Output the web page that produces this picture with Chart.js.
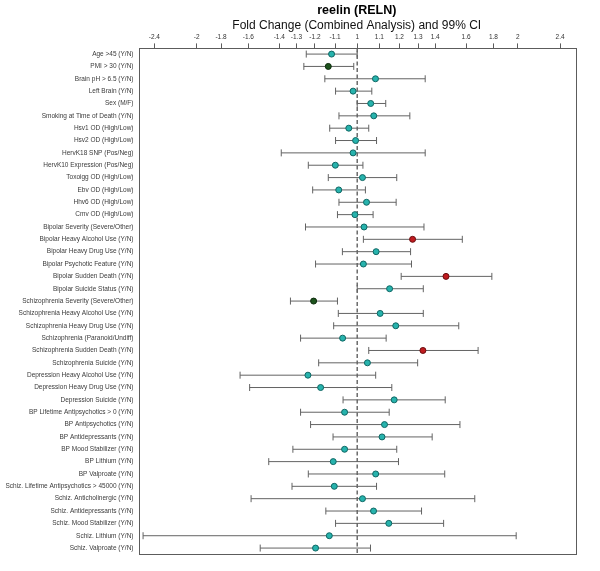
<!DOCTYPE html>
<html>
<head>
<meta charset="utf-8">
<script src="https://cdn.jsdelivr.net/npm/chart.js@4.4.1/dist/chart.umd.min.js"></script>
<style>
    body { margin: 0; background: #fff; }
    .chart-wrap { width: 600px; height: 571px; }
</style>
</head>
<body>
<div class="chart-wrap"><canvas id="forestChart"></canvas></div>
<script>
// row labels, top to bottom
const categories = [
    'Age >45 (Y/N)', 'PMI > 30 (Y/N)', 'Brain pH > 6.5 (Y/N)', 'Left Brain (Y/N)', 'Sex (M/F)',
    'Smoking at Time of Death (Y/N)', 'Hsv1 OD (High/Low)', 'Hsv2 OD (High/Low)', 'HervK18 SNP (Pos/Neg)',
    'HervK10 Expression (Pos/Neg)', 'Toxoigg OD (High/Low)', 'Ebv OD (High/Low)', 'Hhv6 OD (High/Low)',
    'Cmv OD (High/Low)', 'Bipolar Severity (Severe/Other)', 'Bipolar Heavy Alcohol Use (Y/N)',
    'Bipolar Heavy Drug Use (Y/N)', 'Bipolar Psychotic Feature (Y/N)', 'Bipolar Sudden Death (Y/N)',
    'Bipolar Suicide Status (Y/N)', 'Schizophrenia Severity (Severe/Other)',
    'Schizophrenia Heavy Alcohol Use (Y/N)', 'Schizophrenia Heavy Drug Use (Y/N)',
    'Schizophrenia (Paranoid/Undiff)', 'Schizophrenia Sudden Death (Y/N)', 'Schizophrenia Suicide (Y/N)',
    'Depression Heavy Alcohol Use (Y/N)', 'Depression Heavy Drug Use (Y/N)', 'Depression Suicide (Y/N)',
    'BP Lifetime Antipsychotics > 0 (Y/N)', 'BP Antipsychotics (Y/N)', 'BP Antidepressants (Y/N)',
    'BP Mood Stabilizer (Y/N)', 'BP Lithium (Y/N)', 'BP Valproate (Y/N)',
    'Schiz. Lifetime Antipsychotics > 45000 (Y/N)', 'Schiz. Anticholinergic (Y/N)',
    'Schiz. Antidepressants (Y/N)', 'Schiz. Mood Stabilizer (Y/N)', 'Schiz. Lithium (Y/N)',
    'Schiz. Valproate (Y/N)'
]
// signed fold change (negative = down), estimate and 99% CI
const foldChange = [
    -1.117, -1.133, 1.082, -1.018, 1.060, 1.074, -1.037, -1.007, -1.018, -1.099,
    1.023, -1.083, 1.041, -1.010, 1.030, 1.270, 1.085, 1.027, 1.467, 1.150,
    -1.207, 1.104, 1.181, -1.065, 1.328, 1.045, -1.237, -1.171, 1.173, -1.056,
    1.125, 1.113, -1.056, -1.109, 1.083, -1.104, 1.023, 1.073, 1.146, -1.128, -1.197
]
const ciLow = [
    -1.246, -1.259, -1.150, -1.098, 1.000, -1.082, -1.126, -1.098, -1.388, -1.235,
    -1.133, -1.212, -1.082, -1.089, -1.250, 1.027, -1.066, -1.197, 1.209, 1.000,
    -1.334, -1.085, -1.107, -1.277, 1.051, -1.181, -1.658, -1.591, -1.063, -1.277,
    -1.223, -1.110, -1.320, -1.465, -1.235, -1.325, -1.581, -1.145, -1.098, -2.520, -1.520
]
const ciHigh = [
    1.000, -1.015, 1.341, 1.065, 1.131, 1.255, 1.051, 1.087, 1.341, 1.025,
    1.186, 1.036, 1.183, 1.071, 1.334, 1.574, 1.259, 1.264, 1.788, 1.330,
    -1.089, 1.330, 1.550, 1.133, 1.685, 1.298, 1.083, 1.161, 1.462, 1.148,
    1.558, 1.382, 1.186, 1.195, 1.459, 1.087, 1.661, 1.320, 1.452, 1.986, 1.059
]
// 'up' / 'down' = significant, 'ns' = not significant
const significance = [
    'ns', 'down', 'ns', 'ns', 'ns', 'ns', 'ns', 'ns', 'ns', 'ns',
    'ns', 'ns', 'ns', 'ns', 'ns', 'up', 'ns', 'ns', 'up', 'ns',
    'down', 'ns', 'ns', 'ns', 'up', 'ns', 'ns', 'ns', 'ns', 'ns',
    'ns', 'ns', 'ns', 'ns', 'ns', 'ns', 'ns', 'ns', 'ns', 'ns', 'ns'
]
const tickLabels = [-2.4, -2, -1.8, -1.6, -1.4, -1.3, -1.2, -1.1, 1, 1.1, 1.2, 1.3, 1.4, 1.6, 1.8, 2, 2.4]

const toLog = (v) => v < 0 ? -Math.log(-v) : Math.log(v)

const fillColors = { ns: '#27b3ad', up: '#c01b1f', down: '#1d531d' }
const edgeColors = { ns: '#0f6663', up: '#6a0d0f', down: '#0b2a0b' }

const boxPlugin = {
    id: 'plotBox',
    beforeDatasetsDraw(chart) {
        const a = chart.chartArea
        const ctx = chart.ctx
        ctx.save()
        ctx.strokeStyle = '#5c5c5c'
        ctx.lineWidth = 1
        ctx.strokeRect(Math.round(a.left) + 0.5, Math.round(a.top) + 0.5,
            Math.round(a.right - a.left), Math.round(a.bottom - a.top))
        ctx.restore()
    }
}

const forestChart = () => {
    const yMin = -0.46
    const yMax = 40.48

    const pointSet = {
        type: 'scatter',
        order: 0,
        data: categories.map((c, i) => ({ x: toLog(foldChange[i]), y: i })),
        pointRadius: 3,
        pointBackgroundColor: significance.map(s => fillColors[s]),
        pointBorderColor: significance.map(s => edgeColors[s]),
        pointBorderWidth: 1
    }

    const barSets = categories.map((c, i) => ({
        type: 'line',
        order: 1,
        data: [{ x: toLog(ciLow[i]), y: i }, { x: toLog(ciHigh[i]), y: i }],
        borderColor: '#636363',
        borderWidth: 1,
        pointStyle: 'line',
        rotation: 90,
        pointRadius: 3.5,
        pointBorderColor: '#636363',
        pointBorderWidth: 1,
        fill: false
    }))

    const refLine = {
        type: 'line',
        order: 2,
        data: [{ x: 0, y: yMin }, { x: 0, y: yMax }],
        borderColor: '#6a6a6a',
        borderWidth: 1.5,
        borderDash: [4, 2.5],
        pointRadius: 0,
        fill: false
    }

    new Chart('forestChart', {
        type: 'scatter',
        data: { datasets: [pointSet, ...barSets, refLine] },
        plugins: [boxPlugin],
        options: {
            animation: false,
            responsive: true,
            maintainAspectRatio: false,
            layout: { padding: { left: 0, right: 25, top: 0, bottom: 17 } },
            plugins: {
                legend: { display: false },
                tooltip: { enabled: false },
                title: {
                    display: true,
                    text: 'reelin (RELN)',
                    fullSize: false,
                    color: '#000',
                    font: { family: 'Liberation Sans, Arial, sans-serif', size: 12.5, weight: 'bold' },
                    padding: { top: 3, bottom: 0 }
                },
                subtitle: {
                    display: true,
                    text: 'Fold Change (Combined Analysis) and 99% CI',
                    fullSize: false,
                    color: '#111',
                    font: { family: 'Liberation Sans, Arial, sans-serif', size: 12 },
                    padding: { top: 0, bottom: 0 }
                }
            },
            scales: {
                x: {
                    type: 'linear',
                    position: 'top',
                    min: -0.944,
                    max: 0.94,
                    afterBuildTicks: (scale) => {
                        scale.ticks = tickLabels.map(v => ({ value: toLog(v) }))
                    },
                    afterFit: (scale) => { scale.height = 16 },
                    ticks: {
                        autoSkip: false,
                        maxRotation: 0,
                        padding: 2,
                        color: '#333',
                        font: { family: 'Liberation Sans, Arial, sans-serif', size: 6.5 },
                        callback: (value, index) => String(tickLabels[index])
                    },
                    grid: { drawOnChartArea: false, drawTicks: true, tickLength: 5, color: '#5c5c5c' },
                    border: { display: false }
                },
                y: {
                    type: 'linear',
                    reverse: true,
                    min: yMin,
                    max: yMax,
                    afterBuildTicks: (scale) => {
                        scale.ticks = categories.map((c, i) => ({ value: i }))
                    },
                    afterFit: (scale) => { scale.width = 138.5 },
                    ticks: {
                        autoSkip: false,
                        padding: 5,
                        color: '#3a3a3a',
                        font: { family: 'Liberation Sans, Arial, sans-serif', size: 6.5 },
                        callback: (value, index) => categories[index]
                    },
                    grid: { display: false, drawTicks: false, tickLength: 0 },
                    border: { display: false }
                }
            }
        }
    })
}

forestChart()
</script>
</body>
</html>
